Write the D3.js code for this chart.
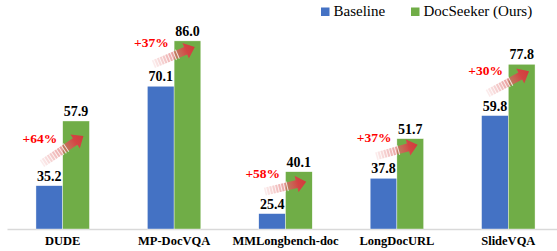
<!DOCTYPE html>
<html>
<head>
<meta charset="utf-8">
<script src="https://cdn.jsdelivr.net/npm/d3@7"></script>
<style>
  body { margin: 0; background: #fff; }
  svg { display: block; }
  svg text { font-family: "Liberation Serif", "Times New Roman", serif; }
</style>
</head>
<body>
<div id="chart"></div>
<script>
// data
var categories = ["DUDE", "MP-DocVQA", "MMLongbench-doc", "LongDocURL", "SlideVQA"];
var baseline = [35.2, 70.1, 25.4, 37.8, 59.8];
var docseeker = [57.9, 86.0, 40.1, 51.7, 77.8];
var gains = ["+64%", "+37%", "+58%", "+37%", "+30%"];
var seriesNames = ["Baseline", "DocSeeker (Ours)"];

var svgWidth = 557, svgHeight = 251;
var blue = "#4472C4", green = "#70AD47";
var serif = "'Liberation Serif', 'Times New Roman', serif";

var svg = d3.select("#chart")
    .append("svg")
    .attr("width", svgWidth)
    .attr("height", svgHeight);

var defs = svg.append("defs");

// scales
var xScale = d3.scaleBand()
    .domain(categories)
    .range([7, 564]);

var yScale = d3.scaleLinear()
    .domain([20, 100])
    .range([229, 1]);

var bw = xScale.step() * 0.24;
var center = d => xScale(d) + xScale.step() / 2;

// x axis
var xAxis = d3.axisBottom(xScale).tickSize(0).tickPadding(7.5);
var axisG = svg.append("g")
    .attr("transform", "translate(0, 229)")
    .call(xAxis);
axisG.attr("font-family", null);
axisG.select(".domain")
    .attr("stroke", "#d9d9d9")
    .attr("stroke-width", 1.5);
axisG.selectAll("text")
    .style("font-family", serif)
    .style("font-weight", "bold")
    .style("font-size", "12.5px")
    .attr("fill", "#000");

// bars
svg.append("g").selectAll("rect")
    .data(categories)
    .enter()
    .append("rect")
    .attr("x", d => center(d) - bw)
    .attr("y", (d, i) => yScale(baseline[i]))
    .attr("width", bw)
    .attr("height", (d, i) => yScale(20) - yScale(baseline[i]))
    .attr("fill", blue)
    .attr("stroke", "#fff")
    .attr("stroke-width", 0.4);

svg.append("g").selectAll("rect")
    .data(categories)
    .enter()
    .append("rect")
    .attr("x", d => center(d))
    .attr("y", (d, i) => yScale(docseeker[i]))
    .attr("width", bw)
    .attr("height", (d, i) => yScale(20) - yScale(docseeker[i]))
    .attr("fill", green)
    .attr("stroke", "#fff")
    .attr("stroke-width", 0.4);

// value labels
svg.append("g").selectAll("text")
    .data(categories)
    .enter()
    .append("text")
    .attr("x", d => center(d) - bw / 2)
    .attr("y", (d, i) => yScale(baseline[i]) - 5)
    .attr("text-anchor", "middle")
    .style("font-family", serif)
    .style("font-weight", "bold")
    .style("font-size", "14px")
    .text((d, i) => baseline[i].toFixed(1));

svg.append("g").selectAll("text")
    .data(categories)
    .enter()
    .append("text")
    .attr("x", d => center(d) + bw / 2)
    .attr("y", (d, i) => yScale(docseeker[i]) - 5)
    .attr("text-anchor", "middle")
    .style("font-family", serif)
    .style("font-weight", "bold")
    .style("font-size", "14px")
    .text((d, i) => docseeker[i].toFixed(1));

// gradient for arrows
var grad = defs.append("linearGradient")
    .attr("id", "arrowGrad")
    .attr("gradientUnits", "objectBoundingBox")
    .attr("x1", 0).attr("x2", 1).attr("y1", 0).attr("y2", 0);
grad.append("stop").attr("offset", "0%").attr("stop-color", "#e88a8a").attr("stop-opacity", 0.15);
grad.append("stop").attr("offset", "45%").attr("stop-color", "#e07070").attr("stop-opacity", 0.6);
grad.append("stop").attr("offset", "80%").attr("stop-color", "#d44444").attr("stop-opacity", 1);
grad.append("stop").attr("offset", "100%").attr("stop-color", "#d13b3b").attr("stop-opacity", 1);

// arrows and gain labels
var headDrop = [15, 6, 10, 6, 7];
var labelRise = [21, 17, 14, 14, 19];
categories.forEach(function(c, i) {
    var x1 = center(c) - bw + 6;
    var y1 = yScale(baseline[i]) - 22;
    var x2 = center(c) + bw - 6;
    var y2 = yScale(docseeker[i]) + headDrop[i];
    var len = Math.hypot(x2 - x1, y2 - y1);
    var ang = Math.atan2(y2 - y1, x2 - x1) * 180 / Math.PI;
    var sw = 4, hw = 8.5, hl = 10;

    var g = svg.append("g")
        .attr("transform", `translate(${x1}, ${y1}) rotate(${ang})`);
    var pts = [[0, -sw], [len - hl, -sw], [len - hl, -hw], [len, 0],
               [len - hl, hw], [len - hl, sw], [0, sw]];
    g.append("path")
        .attr("d", d3.line()(pts) + "Z")
        .attr("fill", "url(#arrowGrad)");
    // striped tail
    g.selectAll("line")
        .data(d3.range(2, len * 0.6, 3))
        .enter()
        .append("line")
        .attr("x1", d => d).attr("x2", d => d)
        .attr("y1", -sw - 1).attr("y2", sw + 1)
        .attr("stroke", "#fff")
        .attr("stroke-width", 1)
        .attr("stroke-opacity", 0.8);

    svg.append("text")
        .attr("x", x1 - 2)
        .attr("y", y1 - labelRise[i])
        .attr("text-anchor", "middle")
        .style("font-family", serif)
        .style("font-weight", "bold")
        .style("font-size", "13.5px")
        .attr("fill", "#ff0000")
        .text(gains[i]);
});

// legend
var legend = svg.append("g");
var legX = [321, 411];
[blue, green].forEach(function(col, i) {
    legend.append("rect")
        .attr("x", legX[i])
        .attr("y", 7.5)
        .attr("width", 8.5)
        .attr("height", 8.5)
        .attr("fill", col);
    legend.append("text")
        .attr("x", legX[i] + 12.5)
        .attr("y", 16)
        .style("font-family", serif)
        .style("font-size", "15px")
        .attr("fill", "#000")
        .text(seriesNames[i]);
});
</script>
</body>
</html>
